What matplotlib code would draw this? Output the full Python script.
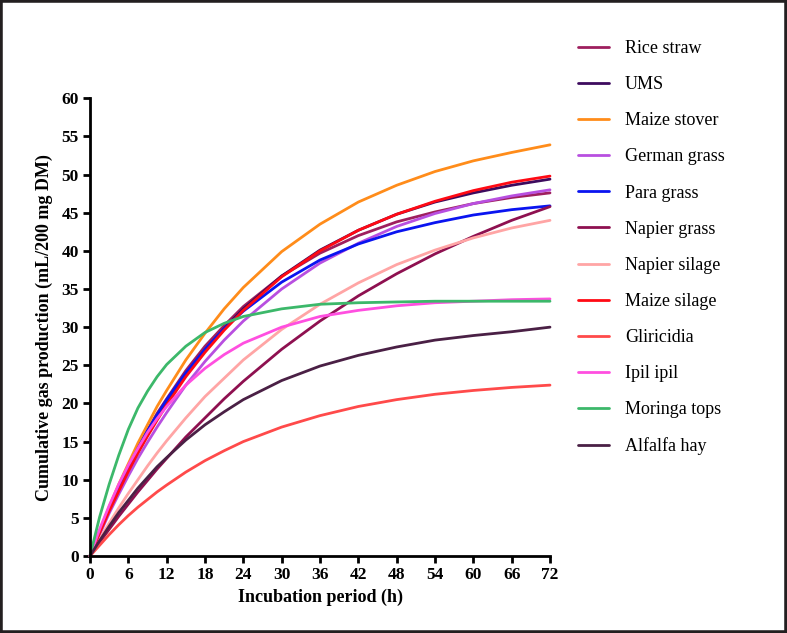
import matplotlib
matplotlib.use("Agg")
import matplotlib.pyplot as plt
from matplotlib.patches import Rectangle

hours = [0, 1.5, 3, 4.5, 6, 7.5, 9, 10.5, 12, 15, 18, 21, 24, 30, 36, 42, 48, 54, 60, 66, 72]

rice_straw    = [0, 3.2, 6.2, 9.1, 11.7, 14.2, 16.5, 18.7, 20.6, 24.3, 27.5, 30.2, 32.7, 36.7, 39.7, 42.0, 43.8, 45.1, 46.2, 47.0, 47.6]
ums           = [0, 3.1, 5.9, 8.7, 11.2, 13.6, 15.9, 18.0, 20.0, 23.7, 26.9, 29.8, 32.4, 36.7, 40.1, 42.7, 44.8, 46.4, 47.6, 48.6, 49.4]
maize_stover  = [0, 3.3, 6.45, 9.4, 12.1, 14.8, 17.2, 19.6, 21.7, 25.7, 29.2, 32.4, 35.2, 39.9, 43.5, 46.4, 48.6, 50.4, 51.8, 52.9, 53.9]
german_grass  = [0, 2.8, 5.6, 8.1, 10.5, 12.8, 14.9, 16.9, 18.8, 22.4, 25.5, 28.3, 30.8, 35.0, 38.4, 41.0, 43.2, 44.9, 46.2, 47.2, 48.0]
para_grass    = [0, 3.2, 6.3, 9.1, 11.7, 14.1, 16.4, 18.5, 20.5, 24.0, 27.1, 29.8, 32.1, 35.9, 38.8, 40.9, 42.5, 43.7, 44.7, 45.4, 45.9]
napier_grass  = [0, 1.8, 3.5, 5.2, 6.8, 8.4, 9.9, 11.4, 12.8, 15.6, 18.1, 20.6, 22.9, 27.1, 30.8, 34.1, 37.0, 39.6, 41.9, 44.0, 45.8]
napier_silage = [0, 2.2, 4.3, 6.3, 8.2, 10.0, 11.8, 13.5, 15.1, 18.1, 20.9, 23.3, 25.7, 29.7, 33.0, 35.8, 38.2, 40.1, 41.7, 43.0, 44.0]
maize_silage  = [0, 3.0, 5.9, 8.5, 11.1, 13.5, 15.7, 17.8, 19.8, 23.5, 26.7, 29.6, 32.2, 36.6, 40.0, 42.7, 44.8, 46.5, 47.9, 49.0, 49.8]
gliricidia    = [0, 1.4, 2.8, 4.1, 5.3, 6.4, 7.4, 8.4, 9.3, 11.0, 12.5, 13.8, 15.0, 16.9, 18.4, 19.6, 20.5, 21.2, 21.7, 22.1, 22.4]
ipil_ipil     = [0, 3.5, 6.6, 9.4, 11.9, 14.1, 16.2, 18.0, 19.6, 22.4, 24.6, 26.4, 27.9, 30.0, 31.4, 32.2, 32.8, 33.2, 33.4, 33.6, 33.7]
moringa_tops  = [0, 5.1, 9.4, 13.2, 16.6, 19.4, 21.6, 23.5, 25.1, 27.5, 29.3, 30.5, 31.4, 32.4, 33.0, 33.2, 33.3, 33.4, 33.4, 33.4, 33.4]
alfalfa_hay   = [0, 2.0, 3.9, 5.7, 7.3, 8.9, 10.3, 11.7, 12.9, 15.2, 17.2, 18.9, 20.5, 23.0, 24.9, 26.3, 27.4, 28.3, 28.9, 29.4, 30.0]

labels = ["Rice straw", "UMS", "Maize stover", "German grass", "Para grass", "Napier grass",
          "Napier silage", "Maize silage", "Gliricidia", "Ipil ipil", "Moringa tops", "Alfalfa hay"]
series = [rice_straw, ums, maize_stover, german_grass, para_grass, napier_grass,
          napier_silage, maize_silage, gliricidia, ipil_ipil, moringa_tops, alfalfa_hay]
colors = ["#9E1F5E", "#3D0B5E", "#FF8C1A", "#B84FE0", "#0A14F0", "#8E1050",
          "#FFA5A5", "#FF0A14", "#FF4A4A", "#FF4FE0", "#3CB86A", "#4A2045"]

xticks = list(range(0, 73, 6))
yticks = list(range(0, 61, 5))

plt.rcParams['font.family'] = ['Liberation Serif', 'DejaVu Serif']

fig = plt.figure(figsize=(7.87, 6.33), dpi=100)
ax = fig.add_axes([90/787, 1-556/633, 460/787, (556-98.3)/633])

handles = []
for lab, ys, col in zip(labels, series, colors):
    h, = ax.plot(hours, ys, color=col, lw=2.0, label=lab, solid_capstyle='round',
                 solid_joinstyle='round', clip_on=False)
    handles.append(h)

ax.set_xlim(0, 72)
ax.set_ylim(0, 60)
ax.set_xticks(xticks)
ax.set_yticks(yticks)
for s in ['top', 'right']:
    ax.spines[s].set_visible(False)
for s in ['left', 'bottom']:
    ax.spines[s].set_linewidth(2.0)
ax.tick_params(direction='out', length=5, width=2.0, labelsize=12.5, pad=3)
for t in ax.get_xticklabels() + ax.get_yticklabels():
    t.set_fontweight('bold')

ax.set_xlabel("Incubation period (h)", fontsize=13, fontweight='bold', labelpad=4)
ax.set_ylabel("Cumulative gas production (mL/200 mg DM)", fontsize=13, fontweight='bold', labelpad=6)

fig.legend(handles=handles, labels=labels, loc='upper left',
           bbox_to_anchor=(578/787, 1-40/633), frameon=False, fontsize=13,
           handlelength=1.7, handletextpad=0.9, labelspacing=1.06,
           borderpad=0, borderaxespad=0)

fig.patches.append(Rectangle((0, 0), 1, 1, transform=fig.transFigure, fill=False,
                             edgecolor='#231F20', lw=4, zorder=10))

fig.savefig("out.png", dpi=100)
